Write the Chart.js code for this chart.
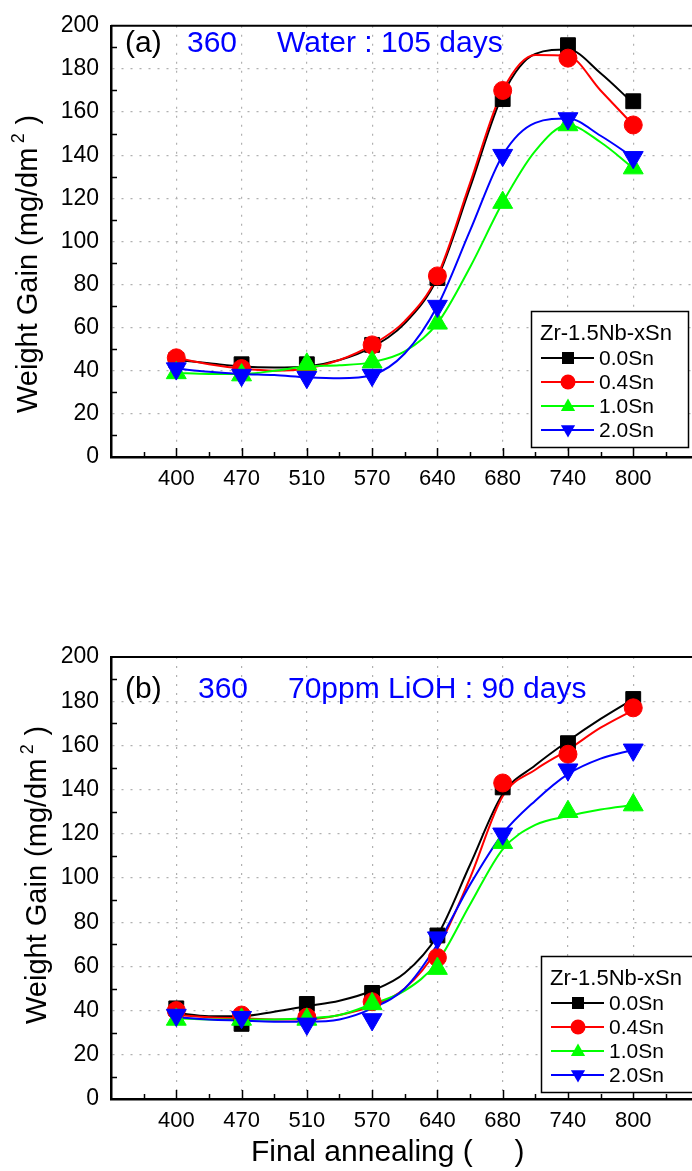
<!DOCTYPE html>
<html>
<head>
<meta charset="utf-8">
<script src="https://cdn.jsdelivr.net/npm/chart.js@4.4.1/dist/chart.umd.min.js"></script>
<style>
  body { margin: 0; background: #fff; width: 692px; height: 1171px; position: relative; overflow: hidden; }
  canvas { position: absolute; left: 0; }
</style>
</head>
<body>
<canvas id="chartA" width="692" height="560" style="top:0"></canvas>
<canvas id="chartB" width="692" height="571" style="top:600px"></canvas>
<script>
var categories = ['400', '470', '510', '570', '640', '680', '740', '800'];
var seriesNames = ['0.0Sn', '0.4Sn', '1.0Sn', '2.0Sn'];
var seriesColors = ['#000000', '#ff0000', '#00ff00', '#0000ff'];

// (a) 360 water, 105 days - measured points
var waterSn00 = [45, 43, 43, 52, 83, 166, 191, 165];
var waterSn04 = [46, 41, 40, 52, 84, 170, 185, 154];
var waterSn10 = [39, 38, 43, 44, 62, 118, 154, 134];
var waterSn20 = [41, 38, 37, 38, 70, 140, 157, 139];

// (b) 360 70ppm LiOH, 90 days - measured points
var lithSn00 = [41, 34, 43, 48, 74, 141, 161, 181];
var lithSn04 = [40, 38, 37, 44, 64, 143, 156, 177];
var lithSn10 = [36, 36, 36, 43, 59, 116, 130, 133];
var lithSn20 = [38, 37, 34, 36, 73, 120, 149, 158];

// fitted curves at half steps
var curveX = [0, 0.5, 1, 1.5, 2, 2.5, 3, 3.5, 4, 4.5, 5, 5.5, 6, 6.5, 7];
var waterFit00 = [45, 43.5, 42, 41.5, 42, 45, 51, 62, 83, 125, 168, 187, 189, 178, 164];
var waterFit04 = [46, 43, 41, 40, 41, 45, 52, 63, 84, 127, 170, 186.5, 186, 170, 154];
var waterFit10 = [39, 38.5, 38.5, 40, 42, 42.5, 44, 49, 62, 88, 118, 142, 154, 146, 134];
var waterFit20 = [41, 39.5, 38.5, 38, 37, 36.5, 38, 48, 70, 105, 140, 155, 157, 149, 139];

var lithFit00 = [39, 37.5, 37.5, 39.5, 42, 44.5, 49, 57, 74, 106, 138, 151, 162, 172, 181];
var lithFit04 = [38, 37, 36.5, 36, 36, 38, 42, 50, 68, 100, 137, 149, 158, 168, 176];
var lithFit10 = [36.5, 36, 36, 36, 36.5, 38, 43, 49, 62, 88, 113, 124, 128, 131, 133];
var lithFit20 = [37, 36, 35.5, 35, 35, 36, 41, 50, 70, 97, 120, 135, 147, 154, 158];

var markerStyle = ['rect', 'circle', 'triangle', 'triangle'];
var markerRot = [0, 0, 0, 180];
var markerRadius = [10.5, 9, 11.5, 11.5];

var FONT = '"Liberation Sans", Arial, sans-serif';

function buildDatasets(values, fits) {
  var sets = [];
  for (var s = 0; s < 4; s++) {
    sets.push({
      label: seriesNames[s],
      data: values[s].map(function (v, i) { return { x: i, y: v }; }),
      showLine: false,
      pointStyle: markerStyle[s],
      pointRotation: markerRot[s],
      pointRadius: markerRadius[s],
      pointBackgroundColor: seriesColors[s],
      pointBorderColor: seriesColors[s],
      pointBorderWidth: 1,
      order: 3 - s
    });
    sets.push({
      label: seriesNames[s] + ' fit',
      data: fits[s].map(function (v, j) { return { x: curveX[j], y: v }; }),
      borderColor: seriesColors[s],
      borderWidth: 2,
      pointRadius: 0,
      cubicInterpolationMode: 'monotone',
      fill: false,
      order: 13 - s
    });
  }
  return sets;
}

function drawMarker(ctx, s, x, y, r) {
  ctx.fillStyle = seriesColors[s];
  ctx.beginPath();
  if (s === 0) {
    ctx.rect(x - r, y - r, 2 * r, 2 * r);
  } else if (s === 1) {
    ctx.arc(x, y, r, 0, Math.PI * 2);
  } else if (s === 2) {
    ctx.moveTo(x, y - r);
    ctx.lineTo(x + r * 0.95, y + r * 0.65);
    ctx.lineTo(x - r * 0.95, y + r * 0.65);
  } else {
    ctx.moveTo(x, y + r);
    ctx.lineTo(x + r * 0.95, y - r * 0.65);
    ctx.lineTo(x - r * 0.95, y - r * 0.65);
  }
  ctx.closePath();
  ctx.fill();
}

function drawYTitle(ctx, cx, bottomY, size) {
  ctx.save();
  ctx.translate(cx, bottomY);
  ctx.rotate(-Math.PI / 2);
  ctx.fillStyle = '#000';
  ctx.textBaseline = 'middle';
  ctx.textAlign = 'left';
  ctx.font = size + 'px ' + FONT;
  var t1 = 'Weight Gain (mg/dm';
  ctx.fillText(t1, 0, 0);
  var w = ctx.measureText(t1).width + size * 0.15;
  ctx.font = Math.round(size * 0.62) + 'px ' + FONT;
  ctx.fillText('2', w, -size * 0.36);
  w += ctx.measureText('2').width + size * 0.3;
  ctx.font = size + 'px ' + FONT;
  ctx.fillText(')', w, 0);
  ctx.restore();
}

// frame top line, inside ticks, legend box and labels
var decor = {
  id: 'decor',
  afterDraw: function (chart, args, o) {
    var ctx = chart.ctx, a = chart.chartArea;
    var xs = chart.scales.x, ys = chart.scales.y;
    ctx.save();
    ctx.strokeStyle = '#000';
    ctx.lineWidth = 2;
    ctx.beginPath();
    ctx.moveTo(a.left, a.top);
    ctx.lineTo(a.right, a.top);
    ctx.stroke();

    ctx.lineWidth = 1.5;
    ctx.beginPath();
    for (var v = 10; v < 200; v += 20) {
      var py = Math.round(ys.getPixelForValue(v)) + 0.5;
      ctx.moveTo(a.left, py);
      ctx.lineTo(a.left + 6, py);
    }
    for (var k = -0.5; k < 8; k += 0.5) {
      var px = Math.round(xs.getPixelForValue(k)) + 0.5;
      var len = (k % 1 === 0) ? 9 : 5;
      ctx.moveTo(px, a.bottom);
      ctx.lineTo(px, a.bottom - len);
    }
    ctx.stroke();

    drawYTitle(ctx, o.yTitleX, o.yTitleBottom, 29);

    // panel text
    ctx.textBaseline = 'middle';
    ctx.textAlign = 'left';
    ctx.fillStyle = '#000';
    ctx.font = '30px ' + FONT;
    ctx.fillText(o.panel, 125, o.textY);
    ctx.fillStyle = '#0000ff';
    ctx.font = '30px ' + FONT;
    ctx.fillText(o.temp, o.tempX, o.textY);
    ctx.fillText(o.cond, o.condX, o.textY);

    if (o.xTitle) {
      ctx.fillStyle = '#000';
      ctx.font = '30px ' + FONT;
      ctx.fillText(o.xTitle, 251, o.xTitleY);
    }

    // legend
    var L = o.legend;
    ctx.fillStyle = '#fff';
    ctx.fillRect(L.x, L.y, L.w, L.h);
    ctx.strokeStyle = '#000';
    ctx.lineWidth = 1.5;
    ctx.strokeRect(L.x + 0.5, L.y + 0.5, L.w, L.h);
    ctx.fillStyle = '#000';
    ctx.font = '22px ' + FONT;
    ctx.fillText('Zr-1.5Nb-xSn', L.x + 9, L.y + 23);
    for (var s = 0; s < 4; s++) {
      var ey = L.y + 47 + s * 24;
      ctx.strokeStyle = seriesColors[s];
      ctx.lineWidth = 2;
      ctx.beginPath();
      ctx.moveTo(L.x + 10, ey);
      ctx.lineTo(L.x + 63, ey);
      ctx.stroke();
      drawMarker(ctx, s, L.x + 37, ey, s === 0 ? 6 : 7.5);
      ctx.fillStyle = '#000';
      ctx.font = '21px ' + FONT;
      ctx.fillText(seriesNames[s], L.x + 68, ey + 1);
    }
    ctx.restore();
  }
};

function makeChart(id, values, fits, padTop, xHeight, deco) {
  var ctx = document.getElementById(id).getContext('2d');
  return new Chart(ctx, {
    type: 'line',
    data: { datasets: buildDatasets(values, fits) },
    plugins: [decor],
    options: {
      responsive: false,
      animation: false,
      events: [],
      devicePixelRatio: 1,
      layout: { autoPadding: false, padding: { top: padTop, right: 0, left: 0, bottom: 0 } },
      plugins: {
        legend: { display: false },
        tooltip: { enabled: false },
        decor: deco
      },
      scales: {
        x: {
          type: 'linear',
          min: -1,
          max: 7.9,
          afterFit: function (scale) { scale.height = xHeight; },
          ticks: {
            stepSize: 1,
            includeBounds: false,
            autoSkip: false,
            maxRotation: 0,
            padding: 9,
            color: '#000',
            font: { family: FONT, size: 22 },
            callback: function (v) { return categories[v] !== undefined ? categories[v] : ''; }
          },
          grid: {
            drawTicks: false,
            lineWidth: 1.2,
            color: function (c) {
              return (c.tick && c.tick.value >= 0 && c.tick.value <= 7) ? '#b0b0b0' : 'rgba(0,0,0,0)';
            }
          },
          border: { display: true, color: '#000', width: 2.5, dash: [2, 7] }
        },
        y: {
          min: 0,
          max: 200,
          afterFit: function (scale) { scale.width = 111; },
          ticks: {
            stepSize: 20,
            padding: 12,
            color: '#000',
            font: { family: FONT, size: 23 }
          },
          grid: {
            drawTicks: false,
            lineWidth: 1.2,
            color: function (c) {
              return (c.tick && c.tick.value > 0 && c.tick.value < 200) ? '#b0b0b0' : 'rgba(0,0,0,0)';
            }
          },
          border: { display: true, color: '#000', width: 2.5, dash: [2, 7] }
        }
      }
    }
  });
}

makeChart('chartA',
  [waterSn00, waterSn04, waterSn10, waterSn20],
  [waterFit00, waterFit04, waterFit10, waterFit20],
  15, 103,
  {
    panel: '(a)', temp: '360', cond: 'Water : 105 days',
    tempX: 187, condX: 277, textY: 44,
    yTitleX: 29, yTitleBottom: 413,
    legend: { x: 531, y: 311, w: 157, h: 136 }
  });

makeChart('chartB',
  [lithSn00, lithSn04, lithSn10, lithSn20],
  [lithFit00, lithFit04, lithFit10, lithFit20],
  57, 72,
  {
    panel: '(b)', temp: '360', cond: '70ppm LiOH : 90 days',
    tempX: 198, condX: 288, textY: 90,
    yTitleX: 38, yTitleBottom: 424,
    xTitle: 'Final annealing (     )', xTitleY: 553,
    legend: { x: 541, y: 356, w: 160, h: 136 }
  });
</script>
</body>
</html>
